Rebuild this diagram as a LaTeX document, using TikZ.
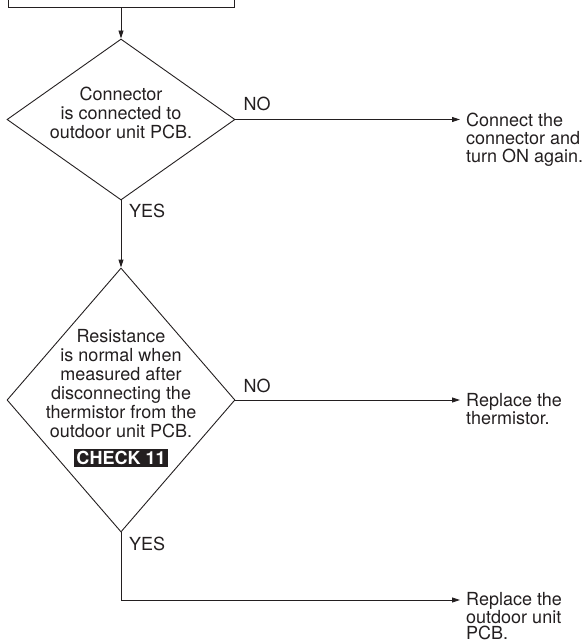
\documentclass[tikz,border=0pt]{standalone}
\usepackage{fontspec}
\setmainfont{TeX Gyre Heros}
\usetikzlibrary{arrows.meta,positioning,shapes.geometric}
\definecolor{ink}{HTML}{231F20}
\tikzset{
  txt/.style={font=\fontsize{18}{19}\selectfont, text=ink, inner sep=0pt},
  decision/.style={diamond, draw=ink, line width=0.9pt, inner sep=0pt, minimum width=228pt},
  action/.style={txt, align=left, anchor=north west, font=\fontsize{18}{18}\selectfont},
  lbl/.style={txt},
  checkbox/.style={fill=ink, text=white, font=\bfseries\fontsize{18}{18}\selectfont,
                   inner xsep=2pt, inner ysep=0pt, minimum height=18pt},
  ar/.style={-{Triangle[length=8pt,width=5pt]}, line width=0.9pt, draw=ink}
}
\begin{document}
\begin{tikzpicture}[x=1pt,y=-1pt]
  \useasboundingbox (0,0) rectangle (588,643);
  \node[draw=ink, line width=0.9pt, minimum width=226pt, minimum height=44pt, inner sep=0pt] (start) at (121,-15) {};

  \node[decision, minimum height=161pt] (q1) at (121,119.5) {};
  \node[txt, align=center] (q1t) at (121,112.5) {Connector\\is connected to\\outdoor unit PCB.};
  \node[decision, minimum height=264pt] (q2) at (121,400) {};
  \node[txt, align=center] (q2t) at (121,384) {Resistance\\is normal when\\measured after\\disconnecting the\\thermistor from the\\outdoor unit PCB.};
  \node[checkbox] (chk) at (121,458) {CHECK 11};

  \node[action] (fix1) at (466,113) {Connect the\\connector and\\turn ON again.};
  \node[action] (fix2) at (466,393) {Replace the\\thermistor.};
  \node[action, font=\fontsize{18}{16.5}\selectfont] (fix3) at (466,592) {Replace the\\outdoor unit\\PCB.};
  \coordinate (bend) at (121,600);

  \node[lbl, anchor=south west] (no1) at ([xshift=8pt,yshift=8pt]q1.east) {NO};
  \node[lbl, anchor=north west] (yes1) at ([xshift=8pt,yshift=-3pt]q1.south) {YES};
  \node[lbl, anchor=south west] (no2) at ([xshift=8pt,yshift=7pt]q2.east) {NO};
  \node[lbl, anchor=north west] (yes2) at ([xshift=8pt,yshift=-4pt]q2.south) {YES};

  \draw[ar] (start) -- (q1);
  \draw[ar] (q1) -- (q2);
  \draw[ar, shorten >=6pt] (q1.east) -- (q1.east -| fix1.west);
  \draw[ar, shorten >=6pt] (q2.east) -- (q2.east -| fix2.west);
  \draw[ar, shorten >=6pt] (q2.south) -- (bend) -- (bend -| fix3.west);
\end{tikzpicture}
\end{document}
